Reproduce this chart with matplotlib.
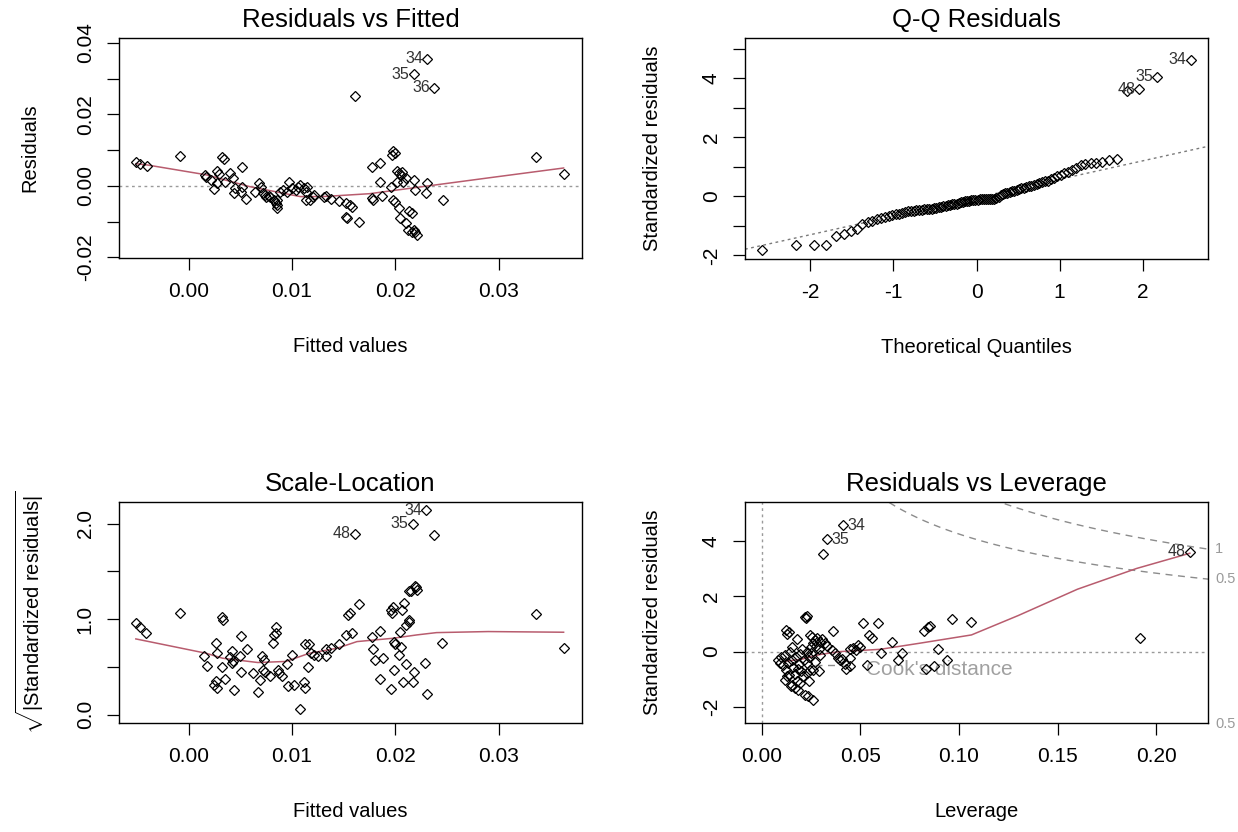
import matplotlib
matplotlib.use("Agg")
import matplotlib.pyplot as plt
import matplotlib.transforms as mtrans
import numpy as np
from statistics import NormalDist

# ---- data ----
# Residuals vs Fitted (first 3 points are the labelled ones: 34, 35, 36)
rf_fitted = [0.0231, 0.0218, 0.0238,
             -0.0051, -0.0047, -0.0040, -0.0008, 0.0016, 0.0017, 0.0022, 0.0028, 0.0029, 0.0025,
             0.0028, 0.0032, 0.0034, 0.0040, 0.0043, 0.0044, 0.0045, 0.0052, 0.0051, 0.0056,
             0.0052, 0.0064, 0.0068, 0.0070, 0.0072, 0.0074, 0.0075, 0.0079, 0.0083, 0.0085,
             0.0086, 0.0086, 0.0086, 0.0089, 0.0091, 0.0095, 0.0097, 0.0100, 0.0104, 0.0108,
             0.0112, 0.0114, 0.0115, 0.0114, 0.0118, 0.0120, 0.0121, 0.0131, 0.0133, 0.0138,
             0.0146, 0.0152, 0.0156, 0.0158, 0.0152, 0.0153, 0.0165, 0.0161, 0.0178, 0.0185,
             0.0185, 0.0178, 0.0179, 0.0187, 0.0198, 0.0200, 0.0197, 0.0196, 0.0198, 0.0200,
             0.0202, 0.0204, 0.0206, 0.0202, 0.0208, 0.0210, 0.0204, 0.0205, 0.0210, 0.0213,
             0.0216, 0.0212, 0.0216, 0.0219, 0.0221, 0.0218, 0.0218, 0.0219, 0.0231, 0.0230,
             0.0246, 0.0336, 0.0363, 0.0078, 0.0106, 0.0035, 0.0207]
rf_resid = [0.0356, 0.0313, 0.0275,
            0.0067, 0.0062, 0.0056, 0.0084, 0.0031, 0.0025, 0.0017, 0.0042, 0.0034, -0.0008,
            0.0008, 0.0081, 0.0075, 0.0036, 0.0022, -0.0020, -0.0006, 0.0053, -0.0017, -0.0037,
            -0.0003, -0.0017, 0.0008, -0.0003, -0.0020, -0.0025, -0.0031, -0.0031, -0.0039, -0.0048,
            -0.0062, -0.0039, -0.0053, -0.0017, -0.0011, -0.0017, 0.0011, -0.0006, -0.0011, 0.0003,
            -0.0006, -0.0017, -0.0003, -0.0039, -0.0039, -0.0031, -0.0025, -0.0031, -0.0028, -0.0036,
            -0.0042, -0.0048, -0.0053, -0.0059, -0.0087, -0.0090, -0.0101, 0.0252, 0.0053, 0.0064,
            0.0011, -0.0034, -0.0039, -0.0028, 0.0098, 0.0092, 0.0087, -0.0003, -0.0039, -0.0045,
            0.0042, 0.0036, 0.0031, 0.0011, 0.0011, 0.0022, -0.0062, -0.0090, -0.0104, -0.0070,
            -0.0076, -0.0123, -0.0129, -0.0129, -0.0137, -0.0123, 0.0017, -0.0011, 0.0008, -0.0020,
            -0.0039, 0.0081, 0.0034, -0.0028, -0.0003, 0.0010, 0.0040]
rf_ids = ["34", "35", "36"]
rf_smooth_x = [-0.0051, -0.0041, 0.0017, 0.0059, 0.0108, 0.0130, 0.0175, 0.0227, 0.0292, 0.0363]
rf_smooth_y = [0.0062, 0.0059, 0.0031, -0.0002, -0.0030, -0.0030, -0.0022, -0.0002, 0.0023, 0.0050]

# Q-Q Residuals: sorted standardized residuals (n = 100), last three labelled 48, 35, 34
qq_sample = [-1.81, -1.65, -1.65, -1.65, -1.35, -1.28, -1.18, -1.09, -0.95, -0.87,
             -0.82, -0.77, -0.73, -0.69, -0.66, -0.63, -0.61, -0.58, -0.55, -0.53,
             -0.51, -0.50, -0.49, -0.47, -0.46, -0.45, -0.44, -0.43, -0.42, -0.41,
             -0.40, -0.39, -0.37, -0.35, -0.33, -0.32, -0.30, -0.28, -0.27, -0.25,
             -0.24, -0.22, -0.20, -0.19, -0.17, -0.16, -0.15, -0.13, -0.12, -0.11,
             -0.11, -0.10, -0.10, -0.10, -0.09, -0.09, -0.09, -0.08, -0.08, -0.05,
             -0.01, 0.04, 0.07, 0.10, 0.12, 0.14, 0.17, 0.19, 0.22, 0.24,
             0.27, 0.29, 0.32, 0.34, 0.37, 0.40, 0.42, 0.45, 0.48, 0.51,
             0.54, 0.58, 0.62, 0.68, 0.73, 0.78, 0.84, 0.90, 0.97, 1.05,
             1.09, 1.12, 1.15, 1.18, 1.22, 1.27, 3.57, 3.63, 4.05, 4.63]
qq_ids = ["48", "35", "34"]
qq_line_intercept = -0.045
qq_line_slope = 0.626

# Scale-Location (first 3 points labelled 34, 35, 48)
sl_fitted = [0.0230, 0.0217, 0.0161,
             -0.0051, -0.0047, -0.0041, -0.0008, 0.0015, 0.0018, 0.0027, 0.0028, 0.0025, 0.0028,
             0.0027, 0.0032, 0.0033, 0.0032, 0.0035, 0.0042, 0.0043, 0.0044, 0.0042, 0.0051,
             0.0057, 0.0051, 0.0050, 0.0062, 0.0067, 0.0069, 0.0071, 0.0072, 0.0073, 0.0074,
             0.0079, 0.0082, 0.0083, 0.0085, 0.0085, 0.0087, 0.0088, 0.0090, 0.0095, 0.0096,
             0.0102, 0.0108, 0.0112, 0.0113, 0.0113, 0.0116, 0.0117, 0.0119, 0.0121, 0.0125,
             0.0133, 0.0133, 0.0138, 0.0146, 0.0152, 0.0154, 0.0156, 0.0158, 0.0165, 0.0178,
             0.0185, 0.0179, 0.0180, 0.0185, 0.0188, 0.0196, 0.0198, 0.0197, 0.0196, 0.0199,
             0.0199, 0.0200, 0.0204, 0.0205, 0.0206, 0.0207, 0.0209, 0.0210, 0.0210, 0.0213,
             0.0208, 0.0213, 0.0217, 0.0218, 0.0213, 0.0215, 0.0219, 0.0221, 0.0220, 0.0238,
             0.0229, 0.0231, 0.0245, 0.0336, 0.0363, 0.0040, 0.0100]
sl_sqrt = [2.139, 2.000, 1.896,
           0.957, 0.922, 0.859, 1.061, 0.616, 0.511, 0.755, 0.643, 0.313, 0.278,
           0.348, 1.026, 0.991, 0.504, 0.372, 0.671, 0.557, 0.261, 0.546, 0.828,
           0.685, 0.445, 0.616, 0.435, 0.233, 0.365, 0.609, 0.470, 0.574, 0.452,
           0.407, 0.755, 0.835, 0.915, 0.859, 0.470, 0.435, 0.400, 0.532, 0.296,
           0.313, 0.059, 0.337, 0.278, 0.741, 0.497, 0.741, 0.643, 0.626, 0.609,
           0.685, 0.609, 0.696, 0.741, 0.835, 1.043, 1.061, 0.859, 1.155, 0.817,
           0.880, 0.685, 0.574, 0.372, 0.591, 1.096, 1.130, 1.061, 0.268, 0.470,
           0.765, 0.741, 0.626, 0.870, 0.713, 1.096, 1.172, 0.532, 0.939, 0.974,
           0.337, 0.991, 0.337, 0.442, 1.297, 1.297, 1.346, 1.304, 1.332, 1.878,
           0.539, 0.219, 0.755, 1.054, 0.703, 0.600, 0.620]
sl_ids = ["34", "35", "48"]
sl_smooth_x = [-0.0051, 0.0017, 0.0033, 0.0067, 0.0094, 0.0117, 0.0144, 0.0163, 0.0198, 0.0221, 0.0240, 0.0290, 0.0363]
sl_smooth_y = [0.793, 0.643, 0.591, 0.546, 0.557, 0.643, 0.696, 0.765, 0.800, 0.835, 0.859, 0.870, 0.863]

# Residuals vs Leverage (first 3 points labelled 34, 35, 48)
rl_lev = [0.0413, 0.0332, 0.2171,
          0.0308, 0.1915, 0.0228, 0.0225, 0.0219, 0.0137, 0.0127, 0.0125, 0.0181, 0.0363,
          0.0514, 0.0590, 0.0546, 0.0560, 0.0660, 0.0606, 0.0711, 0.0690, 0.0531, 0.0822,
          0.0842, 0.0852, 0.0963, 0.1063, 0.0892, 0.0937, 0.0872, 0.0832, 0.0429, 0.0449,
          0.0399, 0.0409, 0.0421, 0.0447, 0.0449, 0.0480, 0.0500, 0.0463, 0.0489, 0.0244,
          0.0255, 0.0270, 0.0282, 0.0295, 0.0305, 0.0320, 0.0330, 0.0354, 0.0370, 0.0387,
          0.0260, 0.0275, 0.0083, 0.0090, 0.0100, 0.0117, 0.0142, 0.0125, 0.0117, 0.0151,
          0.0168, 0.0184, 0.0219, 0.0235, 0.0260, 0.0210, 0.0244, 0.0269, 0.0295, 0.0227,
          0.0252, 0.0147, 0.0127, 0.0177, 0.0228, 0.0258, 0.0288, 0.0110, 0.0135, 0.0155,
          0.0160, 0.0175, 0.0190, 0.0195, 0.0200, 0.0215, 0.0230, 0.0240, 0.0250, 0.0155,
          0.0170, 0.0140, 0.0185, 0.0205, 0.0238, 0.0195, 0.0290]
rl_std = [4.56, 4.05, 3.60,
          3.54, 0.50, 1.28, 1.20, 1.24, 0.72, 0.64, 0.78, 0.44, 0.76,
          1.04, 1.04, 0.60, 0.48, 0.34, -0.04, -0.06, -0.32, -0.48, 0.76,
          0.88, 0.92, 1.16, 1.08, 0.08, -0.32, -0.52, -0.64, -0.64, -0.52,
          -0.32, -0.28, -0.44, -0.24, 0.08, 0.04, 0.18, 0.12, 0.24, 0.60,
          0.52, 0.42, 0.50, 0.36, 0.44, 0.30, 0.20, 0.06, -0.06, -0.24,
          0.30, 0.20, -0.30, -0.40, -0.20, -0.12, 0.00, -0.66, -1.02, -1.20,
          -1.32, -1.38, -1.56, -1.60, -1.76, -0.90, -0.66, -0.36, -0.12, 0.00,
          0.18, -1.26, -0.90, -1.08, -0.78, -0.66, -0.72, -0.50, -0.40, -0.30,
          -0.55, -0.20, -0.45, -0.10, -0.70, -0.30, -0.40, -0.20, -0.05, 0.15,
          -0.80, -0.85, -0.62, 0.10, -1.05, -1.15, 0.10]
rl_ids = ["34", "35", "48"]
rl_smooth_x = [0.0107, 0.0200, 0.0300, 0.0400, 0.0500, 0.0600, 0.0800, 0.1063, 0.1300, 0.1600, 0.1900, 0.2170]
rl_smooth_y = [-0.36, -0.28, -0.10, 0.00, 0.04, 0.08, 0.30, 0.60, 1.30, 2.25, 3.00, 3.55]
cook_levels = [0.5, 1.0]
n_par = 4

# ---- style ----
plt.rcParams['font.family'] = ['Liberation Sans', 'DejaVu Sans']
plt.rcParams['axes.unicode_minus'] = False
plt.rcParams['mathtext.fontset'] = 'custom'
plt.rcParams['mathtext.rm'] = 'Liberation Sans'
plt.rcParams['mathtext.it'] = 'Liberation Sans:italic'

W, H = 1238, 832
fig = plt.figure(figsize=(W / 100, H / 100), dpi=100)

smooth_col = '#B85C6E'
grey = '#9a9a9a'
pt_kw = dict(linestyle='none', marker='D', ms=5, mfc='none', mec='black', mew=0.9, zorder=3)


def make_ax(l, t, r, b):
    return fig.add_axes([l / W, 1 - b / H, (r - l) / W, (b - t) / H])


def style(ax, title, xlabel, ylabel, xticks, xlabs, yticks, ylabs, xlim, ylim, ylab_x):
    ax.set_xlim(*xlim)
    ax.set_ylim(*ylim)
    ax.set_xticks(xticks)
    ax.set_xticklabels(xlabs)
    ax.set_yticks(yticks)
    ax.set_yticklabels(ylabs)
    ax.tick_params(direction='out', length=8.5, width=0.9, labelsize=15, pad=9)
    ax.tick_params(axis='y', labelrotation=90)
    for lab in ax.get_yticklabels():
        lab.set_va('center')
    for s in ax.spines.values():
        s.set_linewidth(1.0)
    ax.set_title(title, fontsize=18.5, pad=8)
    ax.set_xlabel(xlabel, fontsize=14.5)
    ax.set_ylabel(ylabel, fontsize=14.5)
    ax.xaxis.set_label_coords(0.5, -0.40)
    ax.xaxis.label.set_va('center')
    ax.yaxis.set_label_coords(ylab_x, 0.5)
    ax.yaxis.label.set_va('center')


def label_points(ax, xs, ys, ids, side):
    for i, t in enumerate(ids):
        dx = -3 if side[i] == 'l' else 3
        ax.annotate(t, (xs[i], ys[i]), xytext=(dx, 0), textcoords='offset points',
                    ha='right' if side[i] == 'l' else 'left', va='center',
                    fontsize=11.5, color='#333333', zorder=4)


# ---- Residuals vs Fitted ----
ax1 = make_ax(119, 38, 582, 258)
ax1.axhline(0, color=grey, lw=1, ls=(0, (2, 2.5)), zorder=1)
ax1.plot(rf_smooth_x, rf_smooth_y, color=smooth_col, lw=1.1, zorder=2)
ax1.plot(rf_fitted, rf_resid, **pt_kw)
label_points(ax1, rf_fitted, rf_resid, rf_ids, 'lll')
style(ax1, 'Residuals vs Fitted', 'Fitted values', 'Residuals',
      [0.0, 0.01, 0.02, 0.03], ['0.00', '0.01', '0.02', '0.03'],
      [-0.02, -0.01, 0.0, 0.01, 0.02, 0.03, 0.04], ['-0.02', '', '0.00', '', '0.02', '', '0.04'],
      (-0.00673, 0.03808), (-0.0202, 0.0414), -0.192)

# ---- Q-Q Residuals ----
ax2 = make_ax(745, 38, 1208, 259)
n = len(qq_sample)
qq_theo = [NormalDist().inv_cdf((i + 0.5) / n) for i in range(n)]
xl = np.array([-2.785, 2.785])
ax2.plot(xl, qq_line_intercept + qq_line_slope * xl, color='#7a7a7a', lw=1, ls=(0, (2, 2.5)), zorder=1)
ax2.plot(qq_theo, qq_sample, **pt_kw)
label_points(ax2, qq_theo[-3:], qq_sample[-3:], qq_ids, 'lll')
style(ax2, 'Q-Q Residuals', 'Theoretical Quantiles', 'Standardized residuals',
      [-2, -1, 0, 1, 2], ['-2', '-1', '0', '1', '2'],
      [-2, -1, 0, 1, 2, 3, 4, 5], ['-2', '', '0', '', '2', '', '4', ''],
      (-2.785, 2.785), (-2.12, 5.37), -0.20)

# ---- Scale-Location ----
ax3 = make_ax(119, 502, 582, 723)
ax3.plot(sl_smooth_x, sl_smooth_y, color=smooth_col, lw=1.1, zorder=2)
ax3.plot(sl_fitted, sl_sqrt, **pt_kw)
label_points(ax3, sl_fitted, sl_sqrt, sl_ids, 'lll')
style(ax3, 'Scale-Location', 'Fitted values', r'$\sqrt{|\mathrm{Standardized\ residuals}|}$',
      [0.0, 0.01, 0.02, 0.03], ['0.00', '0.01', '0.02', '0.03'],
      [0.0, 0.5, 1.0, 1.5, 2.0], ['0.0', '', '1.0', '', '2.0'],
      (-0.00673, 0.03808), (-0.087, 2.226), -0.192)

# ---- Residuals vs Leverage ----
ax4 = make_ax(745, 502, 1208, 723)
xmax = 0.2262
ax4.axhline(0, color=grey, lw=1, ls=(0, (2, 2.5)), zorder=1)
ax4.axvline(0, color=grey, lw=1, ls=(0, (2, 2.5)), zorder=1)
hh = np.linspace(0.002, xmax, 101)
trans = mtrans.blended_transform_factory(ax4.transAxes, ax4.transData)
for lev in cook_levels:
    cl = np.sqrt(lev * n_par * (1 - hh) / hh)
    ax4.plot(hh, cl, color='#8c8c8c', lw=1, ls=(0, (5, 4)), zorder=1)
    ax4.plot(hh, -cl, color='#8c8c8c', lw=1, ls=(0, (5, 4)), zorder=1)
    yv = np.sqrt(lev * n_par * (1 - xmax) / xmax)
    for yy in (yv, -yv):
        if -2.7 < yy < 5.4:
            ax4.text(1.015, yy, '1' if lev == 1.0 else '0.5', transform=trans, ha='left',
                     va='center', fontsize=10.5, color=grey, clip_on=False)
ax4.plot(rl_smooth_x, rl_smooth_y, color=smooth_col, lw=1.1, zorder=2)
ax4.plot([0.027, 0.041], [-0.50, -0.50], color='#8c8c8c', lw=1, ls=(0, (5, 4)), zorder=1)
ax4.text(0.053, -0.65, "Cook's distance", fontsize=15, color='#a0a0a0', va='center', ha='left', zorder=2)
ax4.plot(rl_lev, rl_std, **pt_kw)
label_points(ax4, rl_lev, rl_std, rl_ids, 'rrl')
style(ax4, 'Residuals vs Leverage', 'Leverage', 'Standardized residuals',
      [0.0, 0.05, 0.10, 0.15, 0.20], ['0.00', '0.05', '0.10', '0.15', '0.20'],
      [-2, 0, 2, 4], ['-2', '0', '2', '4'],
      (-0.0085, xmax), (-2.58, 5.40), -0.20)

fig.savefig('out.png', dpi=100)
